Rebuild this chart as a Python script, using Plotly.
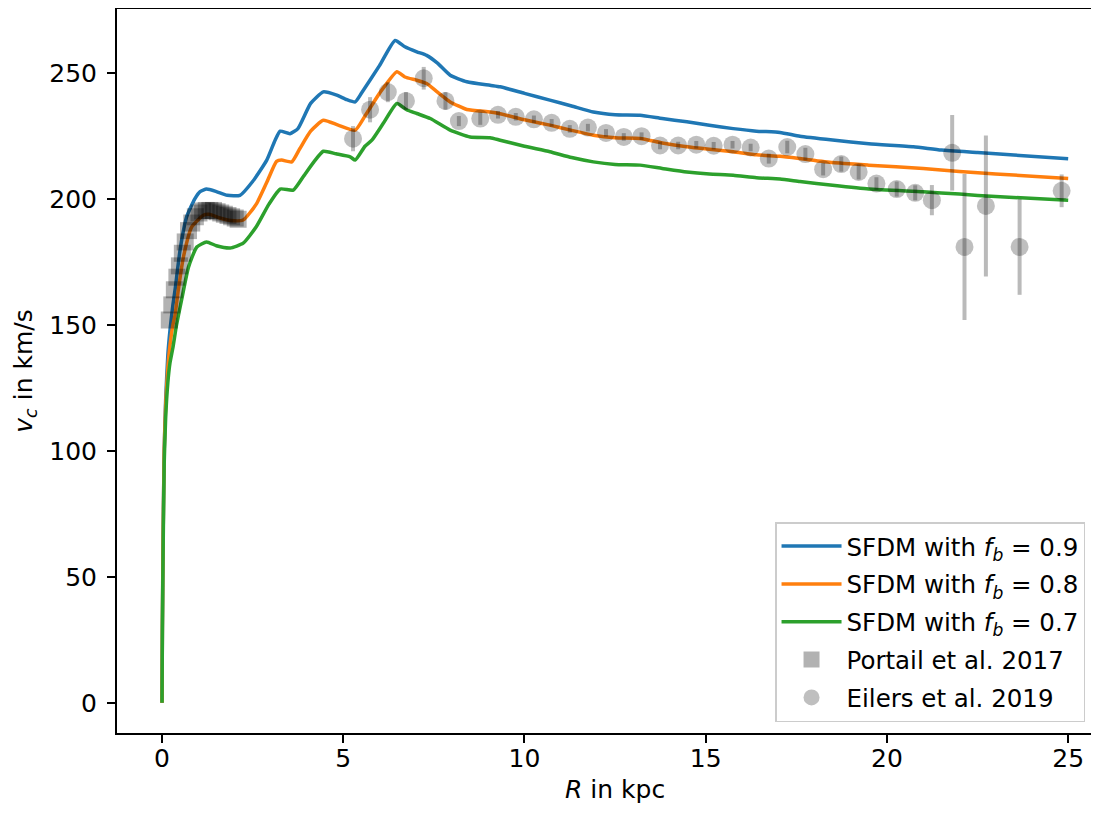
import plotly.graph_objects as go

# ---- model curves (SFDM) ----
r_blue = [0, 0.01, 0.03, 0.06, 0.1, 0.16, 0.22, 0.3, 0.36, 0.5, 0.68, 0.9, 1.05, 1.23, 1.5, 1.8, 2.15,
          2.5, 2.89, 3.12, 3.26, 3.53, 3.75, 4.1, 4.45, 4.82, 5.1, 5.33, 5.5, 6.0, 6.43, 6.7, 7.03, 7.3,
          7.6, 7.95, 8.41, 9.05, 9.33, 10.0, 10.7, 11.3, 11.9, 12.5, 13.19, 13.8, 14.48, 15.1, 15.76,
          16.4, 17.05, 17.6, 18.5, 19.5, 20.73, 21.5, 22.5, 23.5, 25.0]
v_blue = [0, 30, 65, 100, 120, 138, 148, 158, 164, 180, 193, 200, 203, 204, 203, 201.5, 201.5,
          207, 215.5, 223.4, 227, 226, 228, 238, 242.6, 241.3, 239.5, 238.6, 242, 253, 263, 260.5, 258.5, 257.1,
          254, 249.2, 246.6, 245.2, 244.6, 242, 239.3, 237, 234.6, 233.5, 233.3, 232, 230.7, 229.3, 228,
          227, 226.5, 225, 223.5, 222, 220.8, 219.5, 218.5, 217.5, 216]

r_orange = [0, 0.01, 0.03, 0.06, 0.1, 0.16, 0.22, 0.3, 0.36, 0.45, 0.59, 0.82, 1.14, 1.3, 1.6, 1.9, 2.24,
            2.6, 2.9, 3.16, 3.3, 3.58, 3.8, 4.1, 4.45, 4.86, 5.33, 5.6, 6.0, 6.48, 6.7, 7.03, 7.3, 7.6,
            7.95, 8.41, 9.05, 9.33, 10.0, 10.7, 11.3, 11.9, 12.5, 13.19, 13.8, 14.48, 15.1, 15.76, 16.4,
            17.05, 17.6, 18.5, 19.5, 21.0, 22.0, 23.0, 25.0]
v_orange = [0, 30, 65, 100, 118, 133, 142, 150, 154, 164, 177, 189, 193.6, 194, 192.5, 191.5, 191.7,
            198, 207, 215, 215.5, 214.8, 220, 227, 231.3, 229.4, 227.4, 233, 242, 250.6, 248.5, 247.2, 245.9, 242.5,
            238.6, 235.6, 234.6, 233.9, 231.5, 229.4, 227.3, 225.4, 224.4, 224.1, 222.3, 220.8, 219.8, 218.8, 217.6,
            217, 216.1, 214.5, 213.5, 212.2, 211, 210, 208.2]

r_green = [0, 0.01, 0.03, 0.06, 0.1, 0.16, 0.22, 0.3, 0.4, 0.54, 0.73, 0.96, 1.23, 1.5, 1.88, 2.24,
           2.6, 2.95, 3.26, 3.62, 3.9, 4.2, 4.45, 4.8, 5.19, 5.33, 5.6, 5.79, 6.1, 6.48, 6.75, 7.03, 7.4,
           7.95, 8.5, 9.05, 9.33, 10.0, 10.7, 11.3, 11.9, 12.5, 13.19, 13.8, 14.48, 15.1, 15.76, 16.4,
           17.05, 17.6, 18.5, 19.5, 21.0, 22.0, 23.0, 25.0]
v_green = [0, 28, 60, 95, 113, 127, 135, 141, 150, 160, 173, 181, 183, 181.5, 180.6, 182.5,
           189, 198, 204, 203.6, 209, 215, 219, 218, 216.8, 215.5, 221, 223.4, 230, 238, 235.5, 234, 232,
           227.4, 224.7, 224.4, 223.4, 221, 218.8, 216.5, 214.8, 213.8, 213.5, 212.2, 210.8, 210, 209.5, 208.5,
           208, 207, 205.5, 204, 202.9, 202, 201, 199.6]

# ---- Portail et al. 2017 ----
r_portail = [0.2, 0.27, 0.34, 0.41, 0.48, 0.56, 0.64, 0.73, 0.82, 0.92, 1.02, 1.12, 1.22, 1.32,
             1.42, 1.52, 1.62, 1.72, 1.82, 1.92, 2.02, 2.1]
v_portail = [152, 158, 164, 169, 173.5, 178.5, 183, 187.5, 190.5, 193, 194.5, 195.3, 195.5, 195.5,
             195.5, 195, 194.5, 194, 193.5, 193, 192.5, 192]

# ---- Eilers et al. 2019 ----
r_eilers = [5.27, 5.74, 6.23, 6.73, 7.22, 7.82, 8.19, 8.78, 9.27, 9.76, 10.26, 10.75, 11.25, 11.75, 12.25,
            12.74, 13.23, 13.74, 14.24, 14.74, 15.22, 15.74, 16.24, 16.74, 17.25, 17.75, 18.24, 18.74, 19.22,
            19.71, 20.27, 20.78, 21.24, 21.8, 22.14, 22.73, 23.66, 24.82]
v_eilers = [224, 235.5, 242.5, 239, 248, 239, 231, 232, 233.5, 232.7, 231.7, 230.3, 227.9, 228.4, 226.3,
            224.7, 225, 221.3, 221.3, 221.6, 221.2, 221.6, 220.5, 216.1, 220.7, 217.9, 211.9, 213.9, 210.8,
            206.2, 204, 202.5, 199.6, 218.4, 181, 197.3, 181, 203.3]
e_eilers = [5, 5, 4, 3.5, 4.5, 3.5, 2, 2.5, 1.5, 1.5, 1.5, 1.5, 1.5, 1.5, 1.5,
            1.5, 1.5, 1.5, 1.5, 1.5, 1.5, 1.5, 1.5, 2, 2.5, 2.5, 2.5, 3, 3,
            2.5, 3, 3, 6, 15, 29, 28, 19, 6.5]

x_ticks = [0, 5, 10, 15, 20, 25]
y_ticks = [0, 50, 100, 150, 200, 250]

FONT = "DejaVu Sans"
FS = 25
fig = go.Figure()

for i, (r, v, col, fb) in enumerate([(r_blue, v_blue, "#1f77b4", "0.9"),
                                     (r_orange, v_orange, "#ff7f0e", "0.8"),
                                     (r_green, v_green, "#2ca02c", "0.7")]):
    fig.add_trace(go.Scatter(
        x=r, y=v, mode="lines",
        line=dict(color=col, width=3.5, shape="spline", smoothing=0.5),
        name=f"SFDM with <i>f</i><sub><i>b</i></sub> = {fb}",
        legendgroup=f"g{i}",
    ))

fig.add_trace(go.Scatter(
    x=r_portail, y=v_portail, mode="markers",
    marker=dict(symbol="square", size=17, color="rgba(0,0,0,0.3)", line=dict(width=0)),
    name="Portail et al. 2017", legendgroup="g3",
))

fig.add_trace(go.Scatter(
    x=r_eilers, y=v_eilers, mode="markers",
    marker=dict(symbol="circle", size=18, color="rgba(0,0,0,0.25)", line=dict(width=0)),
    error_y=dict(type="data", array=e_eilers, visible=True, color="rgba(0,0,0,0.27)",
                 thickness=4, width=0),
    name="Eilers et al. 2019", legendgroup="g4",
))

fig.update_layout(
    width=1083, height=799,
    margin=dict(l=109, r=0, t=1, b=74, autoexpand=False),
    plot_bgcolor="white", paper_bgcolor="white",
    font=dict(family=FONT, size=FS, color="black"),
    showlegend=True,
    legend=dict(
        x=0.6756, y=0.015, xanchor="left", yanchor="bottom",
        bgcolor="rgba(255,255,255,0.85)", bordercolor="#cccccc", borderwidth=1.5,
        font=dict(family=FONT, size=FS - 0.5), itemwidth=60, tracegroupgap=3,
    ),
    annotations=[dict(
        text="<i>R</i> in kpc", xref="paper", yref="paper", x=0.511, y=0,
        xanchor="center", yanchor="bottom", yshift=-73, showarrow=False,
        font=dict(family=FONT, size=FS),
    )],
)

fig.update_xaxes(
    range=[-1.242, 25.63], tickvals=x_ticks, ticktext=[str(t) for t in x_ticks],
    automargin=False, ticklabelstandoff=-6,
    showgrid=False, zeroline=False, showline=True, linecolor="black", linewidth=2,
    mirror=True, ticks="outside", ticklen=8, tickwidth=2, tickcolor="black",
)
fig.update_yaxes(
    range=[-12.0, 275.5], tickvals=y_ticks, ticktext=[str(t) for t in y_ticks],
    automargin=False, ticklabelstandoff=5,
    showgrid=False, zeroline=False, showline=True, linecolor="black", linewidth=2,
    mirror=False, ticks="outside", ticklen=8, tickwidth=2, tickcolor="black",
    title=dict(text="<i>v</i><sub><i>c</i></sub> in km/s", font=dict(family=FONT, size=FS), standoff=10),
)

fig.write_html("out.html")
